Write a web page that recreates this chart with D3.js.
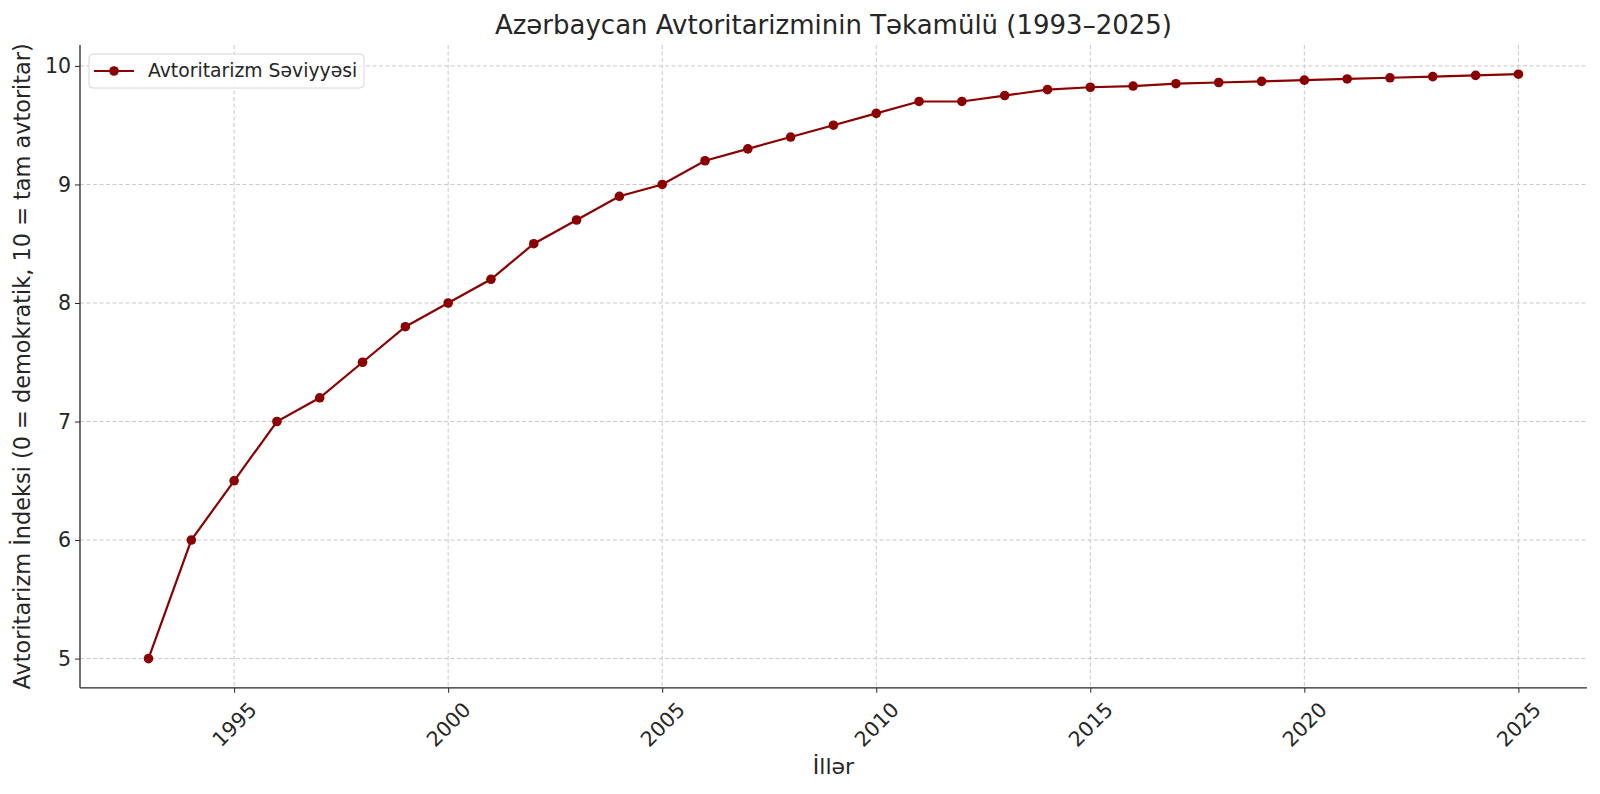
<!DOCTYPE html>
<html><head><meta charset="utf-8">
<script src="https://cdn.jsdelivr.net/npm/d3@7"></script>
<style>body{margin:0;background:#fff}svg{display:block}text{font-family:"DejaVu Sans",sans-serif;fill:#262626}</style>
</head><body><svg id="c" width="1600" height="794"></svg>
<script>
const years = [1993,1994,1995,1996,1997,1998,1999,2000,2001,2002,2003,2004,2005,2006,2007,2008,2009,2010,2011,2012,2013,2014,2015,2016,2017,2018,2019,2020,2021,2022,2023,2024,2025];
const values = [5.0,6.0,6.5,7.0,7.2,7.5,7.8,8.0,8.2,8.5,8.7,8.9,9.0,9.2,9.3,9.4,9.5,9.6,9.7,9.7,9.75,9.8,9.82,9.83,9.85,9.86,9.87,9.88,9.89,9.9,9.91,9.92,9.93];
const xTicks = [1995,2000,2005,2010,2015,2020,2025];
const yTicks = [5,6,7,8,9,10];
const title = "Azərbaycan Avtoritarizminin Təkamülü (1993–2025)";
const xLabel = "İllər";
const yLabel = "Avtoritarizm İndeksi (0 = demokratik, 10 = tam avtoritar)";
const seriesName = "Avtoritarizm Səviyyəsi";

const L=80,R=1586.9,T=45,B=687.8;
const svg=d3.select("#c");
const x=d3.scaleLinear().domain([1991.4,2026.6]).range([L,R]);
const y=d3.scaleLinear().domain([4.7535,10.1765]).range([B,T]);
const col="#8b0000";
const tf=20.5;

// grid
const g=svg.append("g");
g.selectAll("line.gx").data(xTicks).join("line").attr("x1",d=>x(d)).attr("x2",d=>x(d)).attr("y1",T).attr("y2",B)
 .attr("stroke","#c8c8c8").attr("stroke-width",1).attr("stroke-dasharray","4,2.5");
g.selectAll("line.gy").data(yTicks).join("line").attr("y1",d=>y(d)).attr("y2",d=>y(d)).attr("x1",L).attr("x2",R)
 .attr("stroke","#c8c8c8").attr("stroke-width",1).attr("stroke-dasharray","4,2.5");

// axes
const xa=svg.append("g").attr("transform",`translate(0,${B})`).call(d3.axisBottom(x).tickValues(xTicks).tickFormat(d3.format("d")).tickSize(5).tickPadding(5).tickSizeOuter(0));
xa.select(".domain").remove();
xa.selectAll(".tick line").attr("stroke","#262626").attr("stroke-width",1);
xa.selectAll(".tick text").attr("font-size",tf).attr("fill","#262626").attr("dy",null).attr("y",0)
 .each(function(){
   const t=d3.select(this); const w=this.getComputedTextLength(); const h=tf*0.73;
   const half=(w+h)*Math.SQRT1_2/2;
   t.attr("text-anchor","middle").attr("dominant-baseline","central")
    .attr("transform",`translate(0,${5+8+half}) rotate(-45)`);
 });
const ya=svg.append("g").attr("transform",`translate(${L},0)`).call(d3.axisLeft(y).tickValues(yTicks).tickFormat(d3.format("d")).tickSize(5).tickPadding(4).tickSizeOuter(0));
ya.select(".domain").remove();
ya.selectAll(".tick line").attr("stroke","#262626");
ya.selectAll(".tick text").attr("font-size",tf).attr("fill","#262626");
svg.append("line").attr("x1",L).attr("x2",L).attr("y1",T).attr("y2",B).attr("stroke","#262626").attr("stroke-width",1.3);
svg.append("line").attr("x1",L).attr("x2",R).attr("y1",B).attr("y2",B).attr("stroke","#262626").attr("stroke-width",1.3);

// line
svg.append("path").datum(years.map((yr,i)=>[yr,values[i]]))
 .attr("fill","none").attr("stroke",col).attr("stroke-width",2.2)
 .attr("d",d3.line().x(d=>x(d[0])).y(d=>y(d[1])));
svg.selectAll("circle.p").data(years.map((yr,i)=>[yr,values[i]])).join("circle")
 .attr("cx",d=>x(d[0])).attr("cy",d=>y(d[1])).attr("r",4.8).attr("fill",col);

// titles
svg.append("text").attr("x",(L+R)/2).attr("y",34).attr("text-anchor","middle").attr("font-size",26).text(title);
svg.append("text").attr("x",(L+R)/2).attr("y",774).attr("text-anchor","middle").attr("font-size",22).text(xLabel);
svg.append("text").attr("transform",`translate(30,${(T+B)/2}) rotate(-90)`).attr("text-anchor","middle").attr("font-size",22.4).text(yLabel);

// legend
const lg=svg.append("g");
lg.append("rect").attr("x",89).attr("y",54).attr("width",275).attr("height",34).attr("rx",4)
 .attr("fill","#fff").attr("fill-opacity",0.85).attr("stroke","#d6d6d6");
lg.append("line").attr("x1",94).attr("x2",134).attr("y1",71).attr("y2",71).attr("stroke",col).attr("stroke-width",2.2);
lg.append("circle").attr("cx",114).attr("cy",71).attr("r",4.8).attr("fill",col);
lg.append("text").attr("x",148).attr("y",77).attr("font-size",18.8).text(seriesName);
</script></body></html>
